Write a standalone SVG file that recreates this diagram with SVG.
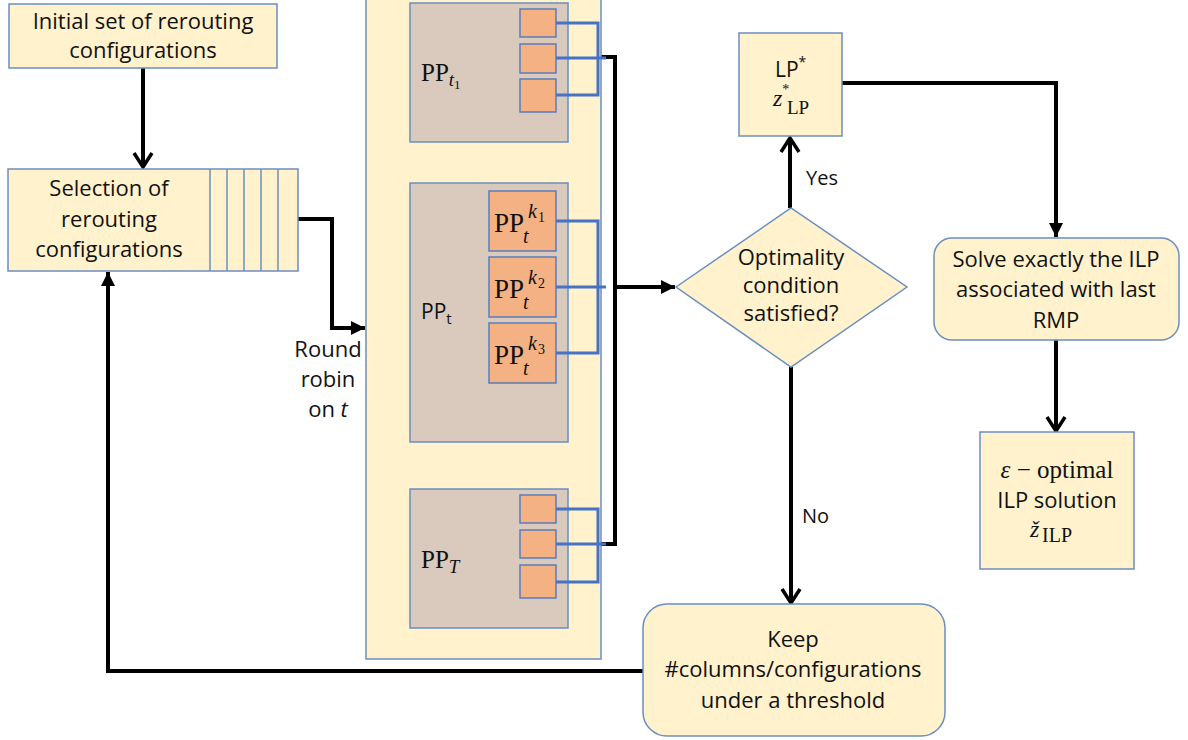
<svg xmlns="http://www.w3.org/2000/svg" width="1188" height="740" viewBox="0 0 1188 740">
<style>
.box{fill:#FFF2CC;stroke:#6C8EBF;stroke-width:1.5}
.pp{fill:#DACABD;stroke:#6C8EBF;stroke-width:1.5}
.sq{fill:#F4B183;stroke:#5B7DB8;stroke-width:1.5}
.blue{stroke:#4472C4;stroke-width:3;fill:none}
.conn{stroke:#000;stroke-width:4;fill:none}
.t{font-family:"Open Sans","Liberation Sans",sans-serif;font-size:22px;fill:#111;text-anchor:middle}
.s{font-family:"Open Sans","Liberation Sans",sans-serif;fill:#111}
.m{font-family:"Liberation Serif","DejaVu Serif",serif;fill:#111}
.i{font-style:italic}
</style>
<defs>
<marker id="fill" markerUnits="userSpaceOnUse" viewBox="0 0 14 14" refX="14" refY="7" markerWidth="14" markerHeight="14" orient="auto">
<path d="M0,0 L14,7 L0,14 z" fill="#000"/>
</marker>
<marker id="chev" markerUnits="userSpaceOnUse" viewBox="0 0 22 22" refX="18" refY="11" markerWidth="22" markerHeight="22" orient="auto">
<path d="M4,2 L18,11 L4,20" fill="none" stroke="#000" stroke-width="3.5"/>
</marker>
</defs>
<rect width="1188" height="740" fill="#fff"/>

<g id="connectors">
<path class="conn" d="M143,68 V167" marker-end="url(#chev)"/>
<path class="conn" d="M298,219 H332 V328 H365" marker-end="url(#fill)"/>
<path class="conn" d="M600,57 H615 V544 H600"/>
<path class="conn" d="M615,287 H675" marker-end="url(#fill)"/>
<path class="conn" d="M790,208 V138" marker-end="url(#chev)"/>
<path class="conn" d="M842,83 H1056 V237" marker-end="url(#fill)"/>
<path class="conn" d="M1056,340 V431" marker-end="url(#chev)"/>
<path class="conn" d="M791,367 V603" marker-end="url(#chev)"/>
<path class="conn" d="M643,671 H108 V272" marker-end="url(#fill)"/>
</g>

<g id="initial">
<rect class="box" x="9" y="4" width="268" height="64"/>
<text class="t" x="143" y="29">Initial set of rerouting</text>
<text class="t" x="143" y="58">configurations</text>
</g>

<g id="selection">
<rect class="box" x="8" y="169" width="290" height="102"/>
<path d="M210,169 V271 M227,169 V271 M244,169 V271 M261,169 V271 M278,169 V271" stroke="#6C8EBF" stroke-width="1.5"/>
<text class="t" x="109" y="196">Selection of</text>
<text class="t" x="109" y="227">rerouting</text>
<text class="t" x="109" y="257">configurations</text>
</g>

<g id="round-robin-label">
<text class="t" x="328" y="357">Round</text>
<text class="t" x="328" y="387">robin</text>
<text class="t" x="328" y="417">on <tspan font-style="italic">t</tspan></text>
</g>

<g id="panel">
<rect class="box" x="366" y="-2" width="235" height="661"/>
</g>

<g id="pp-t1">
<rect class="pp" x="410" y="3" width="158" height="139"/>
<rect class="sq" x="520" y="9" width="36" height="28"/>
<rect class="sq" x="520" y="44" width="36" height="29"/>
<rect class="sq" x="520" y="79" width="36" height="33"/>
<text class="m" x="421" y="81" font-size="25">PP<tspan class="i" font-size="19" dy="5">t</tspan><tspan font-size="13" dy="3">1</tspan></text>
</g>

<g id="pp-t">
<rect class="pp" x="410" y="183" width="158" height="259"/>
<rect class="sq" x="489" y="191" width="67" height="60"/>
<rect class="sq" x="489" y="257" width="67" height="60"/>
<rect class="sq" x="489" y="323" width="67" height="60"/>
<text class="s" x="421" y="319" font-size="21">PP<tspan font-size="15" dy="5">t</tspan></text>
<text class="m" x="494" y="232" font-size="27">PP</text>
<text class="m i" x="528" y="218" font-size="20">k</text>
<text class="m" x="538" y="222" font-size="14">1</text>
<text class="m i" x="523" y="243" font-size="20">t</text>
<text class="m" x="494" y="298" font-size="27">PP</text>
<text class="m i" x="528" y="284" font-size="20">k</text>
<text class="m" x="538" y="288" font-size="14">2</text>
<text class="m i" x="523" y="309" font-size="20">t</text>
<text class="m" x="494" y="364" font-size="27">PP</text>
<text class="m i" x="528" y="350" font-size="20">k</text>
<text class="m" x="538" y="354" font-size="14">3</text>
<text class="m i" x="523" y="375" font-size="20">t</text>
</g>

<g id="pp-T">
<rect class="pp" x="410" y="489" width="158" height="139"/>
<rect class="sq" x="520" y="495" width="36" height="28"/>
<rect class="sq" x="520" y="530" width="36" height="28"/>
<rect class="sq" x="520" y="565" width="36" height="33"/>
<text class="m" x="421" y="568" font-size="25">PP<tspan class="i" font-size="19" dy="5">T</tspan></text>
</g>

<g id="blue-links">
<path class="blue" d="M556,23 H598 V95 H556 M556,58 H606"/>
<path class="blue" d="M556,221 H598 V353 H556 M556,287 H606"/>
<path class="blue" d="M556,509 H598 V582 H556 M556,544 H606"/>
</g>

<g id="optimality">
<path class="box" d="M676,287 L791,208 L907,287 L791,367 Z"/>
<text class="t" x="791" y="265" font-size="20">Optimality</text>
<text class="t" x="791" y="293" font-size="20">condition</text>
<text class="t" x="791" y="321" font-size="20">satisfied?</text>
</g>

<g id="yes-label"><text class="s" x="806" y="185" font-size="20">Yes</text></g>
<g id="no-label"><text class="s" x="802" y="523" font-size="20">No</text></g>

<g id="lp">
<rect class="box" x="739" y="33" width="103" height="103"/>
<text class="s" x="775" y="77" font-size="21">LP<tspan font-size="14" dy="-10">*</tspan></text>
<text class="m i" x="773" y="106" font-size="24">z<tspan font-style="normal" font-size="14" dy="-12">*</tspan></text>
<text class="m" x="787" y="114" font-size="19">LP</text>
</g>

<g id="solve">
<rect class="box" x="934" y="238" width="245" height="102" rx="18"/>
<text class="t" x="1056" y="267">Solve exactly the ILP</text>
<text class="t" x="1056" y="297">associated with last</text>
<text class="t" x="1056" y="328">RMP</text>
</g>

<g id="eps">
<rect class="box" x="980" y="432" width="154" height="137"/>
<text class="m" x="1057" y="478" font-size="25" text-anchor="middle"><tspan font-style="italic">ε</tspan> − optimal</text>
<text class="t" x="1057" y="508">ILP solution</text>
<text class="m i" x="1030" y="537" font-size="24">ž</text>
<text class="m" x="1042" y="542" font-size="20">ILP</text>
</g>

<g id="keep">
<rect class="box" x="643" y="604" width="302" height="132" rx="24"/>
<text class="t" x="793" y="647">Keep</text>
<text class="t" x="793" y="677">#columns/configurations</text>
<text class="t" x="793" y="708">under a threshold</text>
</g>
</svg>
